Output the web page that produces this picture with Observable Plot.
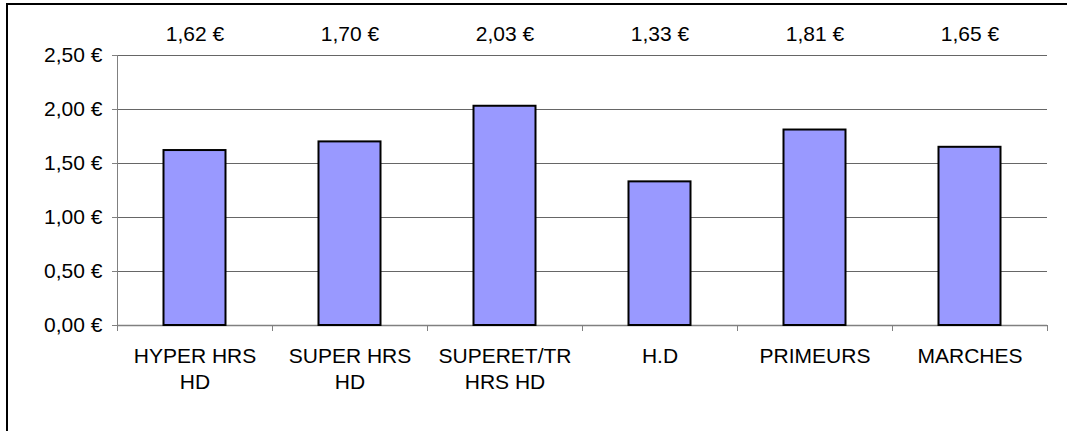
<!DOCTYPE html>
<html><head><meta charset="utf-8">
<script src="https://cdn.jsdelivr.net/npm/d3@7"></script>
<script src="https://cdn.jsdelivr.net/npm/@observablehq/plot@0.6"></script>
<style>
body{margin:0;background:#fff;}
#wrap{position:relative;width:1067px;height:431px;overflow:hidden;background:#fff;}
#border{position:absolute;left:6px;top:3px;width:1100px;height:500px;border-left:2px solid #000;border-top:2px solid #000;}
#wrap svg{position:absolute;left:0;top:0;}
</style></head><body><div id="wrap"><div id="border"></div></div>
<script>
const categories = ["HYPER HRS\nHD", "SUPER HRS\nHD", "SUPERET/TR\nHRS HD", "H.D", "PRIMEURS", "MARCHES"];
const prices = [1.62, 1.70, 2.03, 1.33, 1.81, 1.65];
const yTicks = [0, 0.5, 1, 1.5, 2, 2.5];
const eur = v => v.toFixed(2).replace(".", ",") + " €";
const data = categories.map((c, i) => ({category: c, price: prices[i], i}));
const boundaries = d3.range(categories.length + 1);
const centers = categories.map((c, i) => i + 0.5);

const chart = Plot.plot({
  width: 1067, height: 431,
  marginLeft: 117, marginRight: 20, marginTop: 55, marginBottom: 106,
  style: {fontFamily: "'Liberation Sans', Arial, sans-serif", fontSize: "21px", color: "#000", background: "transparent", overflow: "visible"},
  x: {type: "linear", domain: [0, categories.length], axis: null},
  y: {domain: [0, 2.5], axis: null, label: null},
  marks: [
    Plot.gridY(yTicks, {stroke: "#666", strokeOpacity: 1}),
    Plot.ruleY([0], {stroke: "#808080", strokeWidth: 1.5}),
    Plot.ruleX([0], {stroke: "#808080"}),
    Plot.axisY(yTicks, {label: null, tickSize: 5, tickPadding: 10, tickFormat: eur, stroke: "#808080", fill: "#000"}),
    Plot.axisX(boundaries, {label: null, tickSize: 6, tickFormat: () => "", stroke: "#808080"}),
    Plot.axisX(centers, {label: null, tickSize: 0, tickPadding: 19, lineHeight: 1.24, fill: "#000", tickFormat: v => categories[Math.floor(v)]}),
    Plot.rect(data, {x1: d => d.i + 0.3, x2: d => d.i + 0.7, y1: 0, y2: "price", fill: "#9999FF", stroke: "#000", strokeWidth: 2}),
    Plot.text(data, {x: d => d.i + 0.5, text: d => eur(d.price), frameAnchor: "top", dy: -29, fill: "#000"})
  ]
});
document.getElementById("wrap").appendChild(chart);
</script>
</body></html>
